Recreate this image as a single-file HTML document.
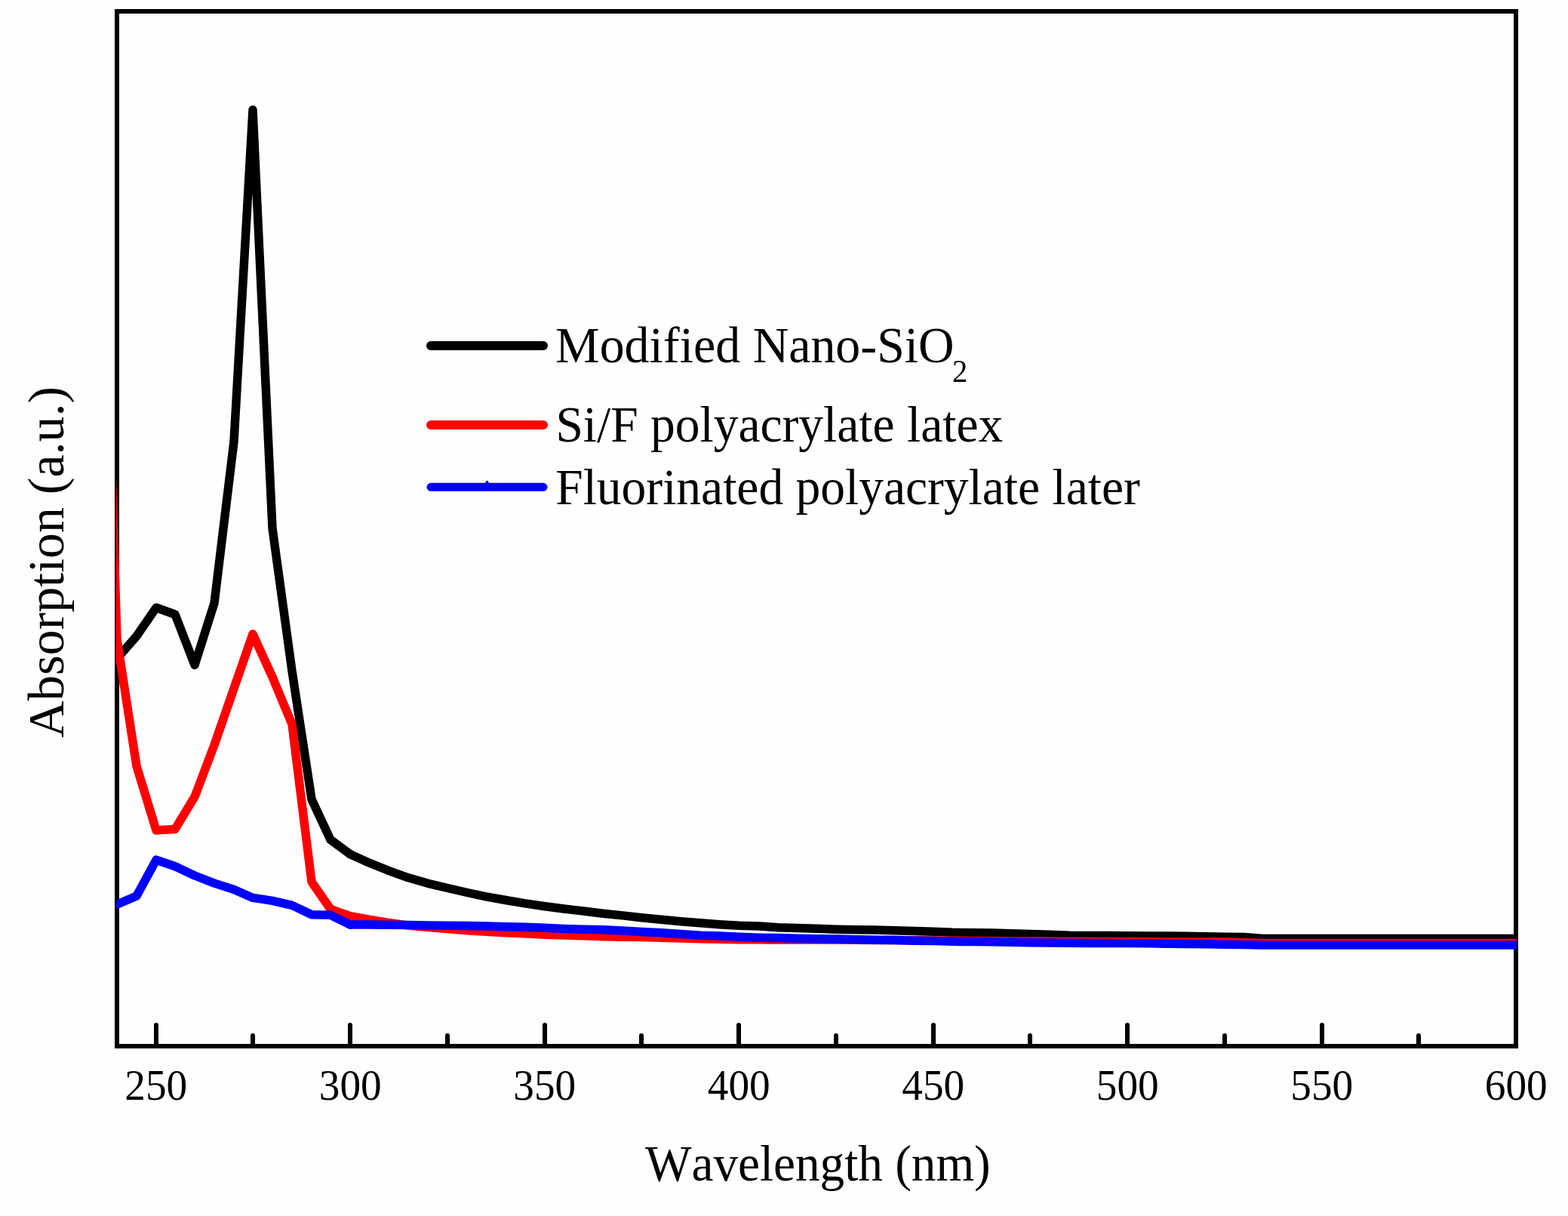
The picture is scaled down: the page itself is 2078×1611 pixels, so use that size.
<!DOCTYPE html>
<html lang="en">
<head>
<meta charset="utf-8">
<title>UV absorption spectra</title>
<style>
html,body{margin:0;padding:0;background:#fff;}
body{width:2078px;height:1611px;overflow:hidden;}
svg{display:block;}
text{font-family:"Liberation Serif", serif;fill:#000;font-kerning:none;font-variant-ligatures:none;}
</style>
</head>
<body>
<svg width="2078" height="1611" viewBox="0 0 2078 1611">
<rect x="0" y="0" width="2078" height="1611" fill="#fefefe"/>
<defs><clipPath id="plot"><rect x="154" y="12" width="1856" height="1377"/></clipPath></defs>

<rect x="155.0" y="15.0" width="1854.0" height="1371.0" fill="none" stroke="#000" stroke-width="6"/>
<line x1="207.00" y1="1386.0" x2="207.00" y2="1358" stroke="#000" stroke-width="6" stroke-linecap="round"/>
<line x1="335.00" y1="1386.0" x2="335.00" y2="1372" stroke="#000" stroke-width="6" stroke-linecap="round"/>
<line x1="464.00" y1="1386.0" x2="464.00" y2="1358" stroke="#000" stroke-width="6" stroke-linecap="round"/>
<line x1="593.00" y1="1386.0" x2="593.00" y2="1372" stroke="#000" stroke-width="6" stroke-linecap="round"/>
<line x1="722.00" y1="1386.0" x2="722.00" y2="1358" stroke="#000" stroke-width="6" stroke-linecap="round"/>
<line x1="850.00" y1="1386.0" x2="850.00" y2="1372" stroke="#000" stroke-width="6" stroke-linecap="round"/>
<line x1="979.00" y1="1386.0" x2="979.00" y2="1358" stroke="#000" stroke-width="6" stroke-linecap="round"/>
<line x1="1108.00" y1="1386.0" x2="1108.00" y2="1372" stroke="#000" stroke-width="6" stroke-linecap="round"/>
<line x1="1237.00" y1="1386.0" x2="1237.00" y2="1358" stroke="#000" stroke-width="6" stroke-linecap="round"/>
<line x1="1365.00" y1="1386.0" x2="1365.00" y2="1372" stroke="#000" stroke-width="6" stroke-linecap="round"/>
<line x1="1494.00" y1="1386.0" x2="1494.00" y2="1358" stroke="#000" stroke-width="6" stroke-linecap="round"/>
<line x1="1623.00" y1="1386.0" x2="1623.00" y2="1372" stroke="#000" stroke-width="6" stroke-linecap="round"/>
<line x1="1752.00" y1="1386.0" x2="1752.00" y2="1358" stroke="#000" stroke-width="6" stroke-linecap="round"/>
<line x1="1880.00" y1="1386.0" x2="1880.00" y2="1372" stroke="#000" stroke-width="6" stroke-linecap="round"/>
<g clip-path="url(#plot)" fill="none" stroke-linejoin="round" stroke-linecap="round">
<polyline points="464.00,1131.70 490.00,1143.40 516.00,1153.80 541.00,1162.80 567.00,1170.30 593.00,1176.50 619.00,1182.50 644.00,1187.90 670.00,1192.50 696.00,1196.90 722.00,1200.70 747.00,1204.00 773.00,1207.00 799.00,1210.20 825.00,1212.90 850.00,1215.75 876.00,1218.25 902.00,1220.75 928.00,1222.80 953.00,1224.75 979.00,1226.30 1005.00,1226.90 1031.00,1228.80 1056.00,1229.45 1082.00,1230.35 1108.00,1231.30 1134.00,1231.80 1159.00,1232.10 1185.00,1232.75 1211.00,1233.45 1237.00,1234.35 1262.00,1235.30 1288.00,1235.70 1314.00,1236.10 1340.00,1236.70 1365.00,1237.45 1391.00,1238.35 1417.00,1239.30 1443.00,1239.45 1468.00,1239.60 1494.00,1239.75 1520.00,1239.90 1546.00,1240.05 1571.00,1240.20 1597.00,1240.70 1623.00,1241.32 1649.00,1241.41 1674.00,1243.50 2012.00,1243.50" stroke="#000" stroke-width="11.5"/>
<polyline points="150.00,873.70 155.00,872.50 181.00,842.80 207.00,805.00 232.00,814.00 258.00,881.00 284.00,799.00 310.00,585.00 335.00,145.60 361.00,700.00 387.00,889.00 413.00,1059.00 438.00,1112.50 464.00,1131.70" stroke="#000" stroke-width="11.5"/>
<polyline points="464.00,1213.70 490.00,1218.50 516.00,1222.60 541.00,1226.00 567.00,1228.60 593.00,1230.45 619.00,1232.80 644.00,1234.30 670.00,1235.80 696.00,1236.80 722.00,1238.20 747.00,1239.10 773.00,1239.80 799.00,1240.75 825.00,1241.15 850.00,1241.55 876.00,1242.30 902.00,1243.10 928.00,1243.80 953.00,1244.30 979.00,1244.75 1005.00,1244.85 1031.00,1244.95 1056.00,1245.00 1082.00,1245.05 1108.00,1245.10 1134.00,1245.20 1159.00,1245.40 1185.00,1245.60 1211.00,1245.85 1237.00,1246.05 1262.00,1246.28 1288.00,1246.50 1314.00,1246.75 1340.00,1247.00 1365.00,1247.27 1391.00,1247.35 1417.00,1247.45 1443.00,1247.55 1468.00,1247.65 1494.00,1247.75 1520.00,1247.85 1546.00,1247.90 1571.00,1247.95 1597.00,1248.00 1623.00,1248.10 1649.00,1248.70 1674.00,1249.60 2012.00,1249.60" stroke="#ff0000" stroke-width="11.5"/>
<polyline points="129.00,11.00 155.00,847.00 181.00,1015.00 207.00,1100.00 232.00,1098.50 258.00,1055.60 284.00,987.00 310.00,912.00 335.00,840.00 361.00,897.00 387.00,959.50 413.00,1168.40 438.00,1204.40 464.00,1213.70" stroke="#ff0000" stroke-width="11.5"/>
<polyline points="464.00,1225.00 490.00,1225.10 516.00,1225.20 541.00,1225.40 567.00,1226.00 593.00,1226.15 619.00,1226.40 644.00,1227.10 670.00,1227.75 696.00,1228.20 722.00,1229.35 747.00,1230.40 773.00,1231.35 799.00,1231.75 825.00,1232.90 850.00,1234.40 876.00,1235.85 902.00,1237.40 928.00,1239.30 953.00,1240.05 979.00,1241.35 1005.00,1242.25 1031.00,1242.60 1056.00,1243.30 1082.00,1243.75 1108.00,1244.10 1134.00,1244.75 1159.00,1245.30 1185.00,1245.60 1211.00,1246.20 1237.00,1246.60 1262.00,1247.30 1288.00,1247.55 1314.00,1247.80 1340.00,1248.15 1365.00,1248.75 1391.00,1249.05 1417.00,1249.30 1443.00,1249.40 1468.00,1249.50 1494.00,1249.60 1520.00,1249.70 1546.00,1250.25 1571.00,1250.40 1597.00,1250.65 1623.00,1251.25 1649.00,1251.50 1674.00,1252.00 2012.00,1252.00" stroke="#0000ff" stroke-width="11.5"/>
<polyline points="150.00,1198.80 155.00,1198.30 181.00,1186.90 207.00,1139.20 232.00,1147.80 258.00,1160.00 284.00,1170.10 310.00,1178.50 335.00,1189.40 361.00,1193.40 387.00,1199.40 413.00,1211.70 438.00,1212.30 464.00,1225.00" stroke="#0000ff" stroke-width="11.5"/>
</g>
<line x1="571" y1="458" x2="720" y2="458" stroke="#000" stroke-width="12" stroke-linecap="round"/>
<line x1="571" y1="562.9" x2="720" y2="562.9" stroke="#ff0000" stroke-width="12" stroke-linecap="round"/>
<line x1="571" y1="645.35" x2="720" y2="645.35" stroke="#0000ff" stroke-width="11" stroke-linecap="round"/>
<polygon points="644,637 647,637 647,639 648,639 648,641 643,641 643,639 644,639" fill="#0000ff"/>
<text transform="translate(736.12 479.8) scale(0.9685 1)" font-size="68">Modified Nano-SiO<tspan font-size="42" dx="-2.8" dy="26.2">2</tspan></text>
<text transform="translate(736.44 584.8) scale(0.963 1)" font-size="68" text-anchor="start">Si/F polyacrylate latex</text>
<text transform="translate(736.24 667.8) scale(0.963 1)" font-size="68" text-anchor="start">Fluorinated polyacrylate later</text>
<text transform="translate(206.8 1456.9) scale(0.96 1)" font-size="57.6" text-anchor="middle">250</text>
<text transform="translate(464.3 1456.9) scale(0.96 1)" font-size="57.6" text-anchor="middle">300</text>
<text transform="translate(721.8 1456.9) scale(0.96 1)" font-size="57.6" text-anchor="middle">350</text>
<text transform="translate(979.3 1456.9) scale(0.96 1)" font-size="57.6" text-anchor="middle">400</text>
<text transform="translate(1236.8 1456.9) scale(0.96 1)" font-size="57.6" text-anchor="middle">450</text>
<text transform="translate(1494.3 1456.9) scale(0.96 1)" font-size="57.6" text-anchor="middle">500</text>
<text transform="translate(1751.8 1456.9) scale(0.96 1)" font-size="57.6" text-anchor="middle">550</text>
<text transform="translate(2009.3 1456.9) scale(0.96 1)" font-size="57.6" text-anchor="middle">600</text>
<text transform="translate(855.0 1563.8) scale(0.9586 1)" font-size="68" text-anchor="start">Wavelength (nm)</text>
<text transform="translate(83.9 977.48) rotate(-90) scale(0.998 1)" font-size="68">Absorption (a.u.)</text>
</svg>
</body>
</html>
